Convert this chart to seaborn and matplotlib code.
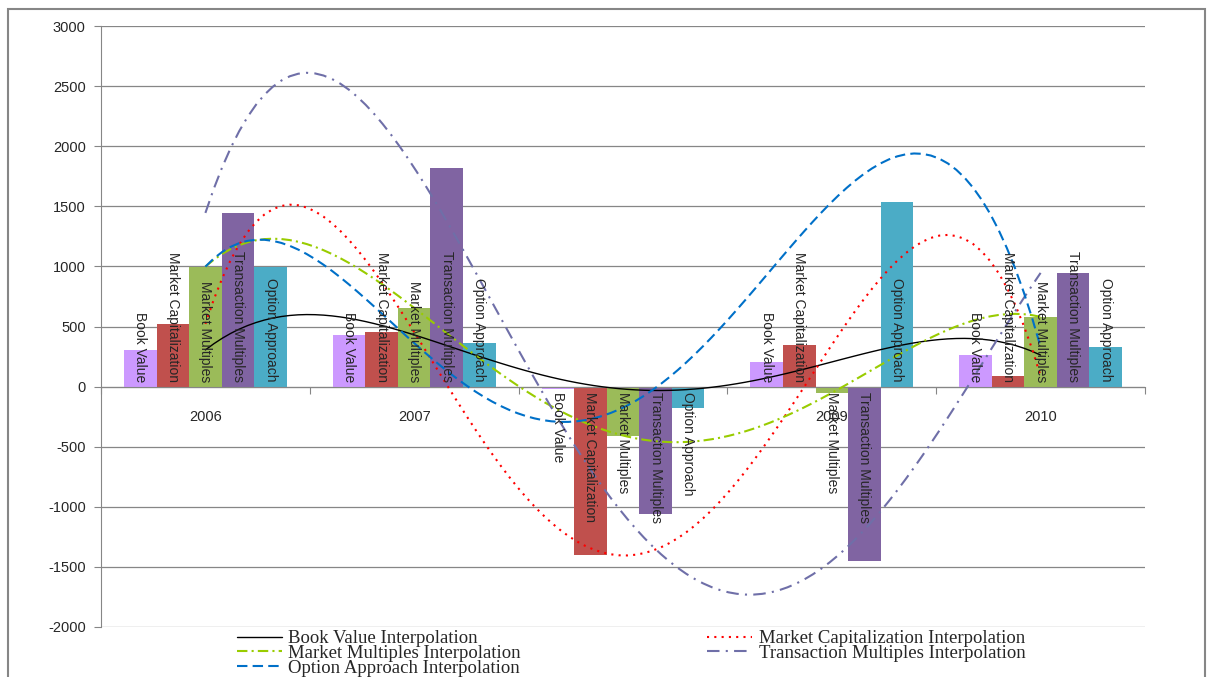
import numpy as np
import pandas as pd
import matplotlib
matplotlib.use('Agg')
import matplotlib.pyplot as plt
from matplotlib.patches import Rectangle
import seaborn as sns

# Data
years = ['2006', '2007', '2008', '2009', '2010']
series = ['Book Value', 'Market Capitalization', 'Market Multiples',
          'Transaction Multiples', 'Option Approach']
book_value = [305, 430, -20, 205, 262]
market_cap = [522, 453, -1405, 347, 88]
market_multiples = [998, 655, -407, -52, 580]
transaction_multiples = [1445, 1820, -1057, -1448, 946]
option_approach = [998, 362, -175, 1537, 330]

bar_colors = ['#CC99FF', '#C0504D', '#9BBB59', '#8064A2', '#4BACC6']
line_colors = ['#000000', '#FF0000', '#99CC00', '#6F6FA8', '#0070C8']
line_styles = ['-', (0, (1, 2.5)), (0, (5, 2, 1, 2)), (0, (6, 3, 1, 3)), (0, (5, 2.5))]
line_widths = [1.0, 1.5, 1.5, 1.5, 1.5]

all_values = [book_value, market_cap, market_multiples,
              transaction_multiples, option_approach]

df = pd.DataFrame({
    'year': np.repeat(years, len(series)),
    'series': series * len(years),
    'value': np.array(all_values).T.ravel(),
})

sns.set_style('white')
plt.rcParams['font.family'] = ['Liberation Sans', 'DejaVu Sans']
plt.rcParams['axes.unicode_minus'] = False

fig = plt.figure(figsize=(12.08, 6.77), dpi=100)
ax = fig.add_axes([101 / 1208, 1 - 627 / 677, 1044 / 1208, 601 / 677])

grid_col = '#868686'

sns.barplot(data=df, x='year', y='value', hue='series', hue_order=series,
            order=years, palette=bar_colors, saturation=1, width=0.78,
            legend=False, ax=ax, zorder=2, linewidth=0, edgecolor='none')

# bar labels, rotated, sitting at the zero axis
for name, cont in zip(series, ax.containers):
    for bar in cont:
        h = bar.get_height()
        xc = bar.get_x() + bar.get_width() / 2
        if h >= 0:
            ax.annotate(name, (xc, 0), xytext=(0, 3.4), textcoords='offset points',
                        rotation=270, ha='center', va='bottom', fontsize=10, zorder=4)
        else:
            ax.annotate(name, (xc, 0), xytext=(0, -3.8), textcoords='offset points',
                        rotation=270, ha='center', va='top', fontsize=10, zorder=4)

# 4th-order polynomial "interpolation" curves through the five yearly values
x_pos = np.arange(len(years))
handles = []
for name, vals, c, ls, lw in zip(series, all_values, line_colors, line_styles, line_widths):
    n_before = len(ax.lines)
    sns.regplot(x=x_pos, y=np.array(vals, dtype=float), order=4, ci=None,
                scatter=False, ax=ax,
                line_kws={'color': c, 'linestyle': ls, 'linewidth': lw, 'zorder': 3})
    handles.append(ax.lines[n_before])
labels = [s + ' Interpolation' for s in series]

ax.set_xlim(-0.5, len(years) - 0.5)
ax.set_ylim(-2000, 3000)
ax.set_yticks(np.arange(-2000, 3001, 500))
ax.set_xlabel('')
ax.set_ylabel('')

# category axis at zero: ticks at boundaries, labels in the middle
ax.set_xticks(np.arange(len(years) + 1) - 0.5)
ax.set_xticklabels([])
ax.set_xticks(x_pos, minor=True)
ax.set_xticklabels(years, minor=True)
ax.tick_params(axis='x', which='major', direction='out', length=5, width=0.8,
               color=grid_col, bottom=True)
ax.tick_params(axis='x', which='minor', length=0, pad=17, labelsize=10.5)
ax.tick_params(axis='y', direction='out', length=5, width=0.8, color=grid_col,
               labelsize=10.5, pad=6, left=True)

ax.spines['bottom'].set_position(('data', 0))
ax.spines['bottom'].set_color(grid_col)
ax.spines['bottom'].set_linewidth(0.8)
ax.spines['left'].set_color(grid_col)
ax.spines['left'].set_linewidth(0.8)
ax.spines['top'].set_visible(False)
ax.spines['right'].set_visible(False)

ax.yaxis.grid(True, color=grid_col, linewidth=0.9)
ax.set_axisbelow(True)

# legend: column-major order so rows read BV/MC, MM/TM, OA
order = [0, 2, 4, 1, 3]
fig.legend([handles[i] for i in order], [labels[i] for i in order],
           loc='upper left', bbox_to_anchor=(237 / 1208, 1 - 630 / 677),
           ncol=2, frameon=False, borderpad=0, borderaxespad=0,
           handlelength=2.4, handletextpad=0.33, columnspacing=9.95,
           labelspacing=-0.12, prop={'family': 'Liberation Serif', 'size': 13.5})

# outer chart frame
fig.patches.append(Rectangle((8 / 1208, -0.1), 1197 / 1208, 1.1 - 9 / 677,
                             transform=fig.transFigure, fill=False,
                             edgecolor=grid_col, linewidth=1.5))

fig.savefig('out.png', dpi=100)
